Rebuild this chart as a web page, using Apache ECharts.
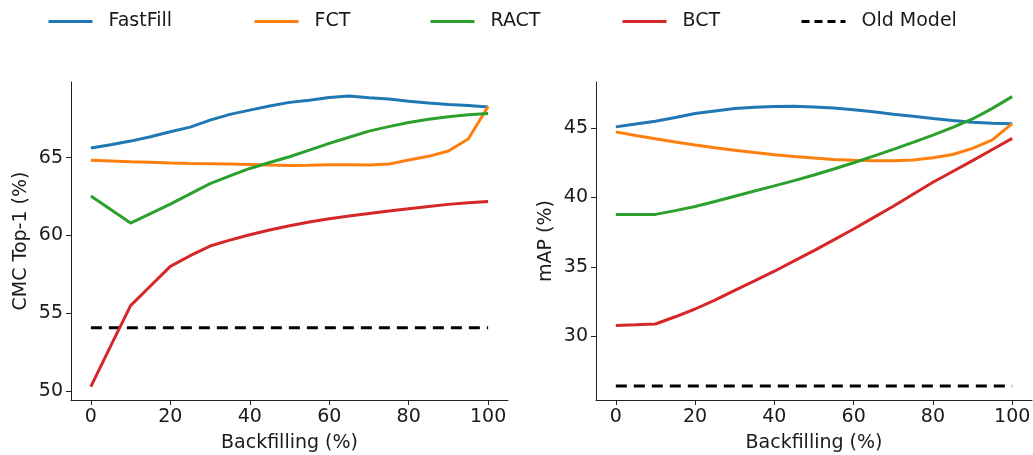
<!DOCTYPE html>
<html>
<head>
<meta charset="utf-8">
<script src="https://cdn.jsdelivr.net/npm/echarts@6/dist/echarts.min.js"></script>
<style>
  html, body { margin: 0; padding: 0; background: #fff; }
  #chart { width: 1033px; height: 455px; }
</style>
</head>
<body>
<div id="chart"></div>
<script>
// Backfilling percentage (x values shared by every curve)
const backfill = [0, 5, 10, 15, 20, 25, 30, 35, 40, 45, 50, 55, 60, 65, 70, 75, 80, 85, 90, 95, 100];

// CMC Top-1 (%)
const top1FastFill = [65.62, 65.83, 66.07, 66.35, 66.67, 66.97, 67.42, 67.79, 68.06, 68.33, 68.56, 68.70, 68.88, 68.97, 68.86, 68.77, 68.63, 68.52, 68.43, 68.36, 68.27];
const top1FCT      = [64.83, 64.79, 64.74, 64.71, 64.66, 64.63, 64.61, 64.59, 64.57, 64.53, 64.50, 64.52, 64.55, 64.55, 64.53, 64.59, 64.85, 65.09, 65.43, 66.20, 68.30];
const top1RACT     = [62.54, 61.67, 60.80, 61.40, 62.02, 62.68, 63.33, 63.83, 64.31, 64.69, 65.06, 65.49, 65.92, 66.32, 66.71, 67.00, 67.27, 67.47, 67.64, 67.76, 67.85];
const top1BCT      = [50.28, 52.90, 55.49, 56.75, 58.01, 58.70, 59.32, 59.70, 60.05, 60.35, 60.63, 60.87, 61.08, 61.25, 61.42, 61.57, 61.72, 61.86, 62.00, 62.10, 62.19];
const top1OldModel = 54.07;

// mAP (%)
const mapFastFill = [45.07, 45.27, 45.48, 45.75, 46.03, 46.22, 46.39, 46.48, 46.53, 46.55, 46.50, 46.42, 46.31, 46.16, 45.98, 45.83, 45.67, 45.53, 45.41, 45.33, 45.29];
const mapFCT      = [44.71, 44.45, 44.21, 43.98, 43.76, 43.56, 43.38, 43.22, 43.07, 42.94, 42.83, 42.73, 42.66, 42.63, 42.64, 42.68, 42.85, 43.08, 43.52, 44.14, 45.31];
const mapRACT     = [38.77, 38.77, 38.77, 39.04, 39.34, 39.70, 40.08, 40.45, 40.82, 41.20, 41.61, 42.04, 42.49, 42.96, 43.45, 43.95, 44.47, 45.03, 45.64, 46.40, 47.25];
const mapBCT      = [30.77, 30.82, 30.88, 31.40, 31.96, 32.60, 33.30, 33.98, 34.68, 35.42, 36.16, 36.94, 37.72, 38.54, 39.36, 40.22, 41.08, 41.86, 42.64, 43.44, 44.24];
const mapOldModel = 26.42;

// Tick labels
const xTicks = [0, 20, 40, 60, 80, 100];
const top1Ticks = [50, 55, 60, 65];
const mapTicks = [30, 35, 40, 45];

const methodNames = ['FastFill', 'FCT', 'RACT', 'BCT', 'Old Model'];
const colors = ['#1f77b4', '#ff7f0e', '#2ca02c', '#d62728', '#000000'];

const FONT = 'DejaVu Sans';
const FS = 19;
const INK = '#1a1a1a';

function pairs(ys) { return backfill.map((x, i) => [x, ys[i]]); }
function flat(v) { return [[backfill[0], v], [backfill[backfill.length - 1], v]]; }

function xAxis(gridIndex) {
  return {
    type: 'value', gridIndex, min: -5, max: 105,
    name: 'Backfilling (%)', nameLocation: 'middle', nameGap: 34,
    nameTextStyle: { fontFamily: FONT, fontSize: FS, color: INK },
    axisLine: { show: true, onZero: false, lineStyle: { color: '#222', width: 1 } },
    axisTick: { show: true, length: 5, lineStyle: { color: '#222' }, customValues: xTicks },
    axisLabel: { fontFamily: FONT, fontSize: FS, color: INK, margin: 8, customValues: xTicks },
    splitLine: { show: false }
  };
}
function yAxis(gridIndex, min, max, ticks, name) {
  return {
    type: 'value', gridIndex, min, max,
    name, nameLocation: 'middle', nameGap: 40, nameRotate: 90,
    nameTextStyle: { fontFamily: FONT, fontSize: FS, color: INK },
    axisLine: { show: true, onZero: false, lineStyle: { color: '#222', width: 1 } },
    axisTick: { show: true, length: 5, lineStyle: { color: '#222' }, customValues: ticks },
    axisLabel: { fontFamily: FONT, fontSize: FS, color: INK, margin: 8, customValues: ticks },
    splitLine: { show: false }
  };
}
function line(name, idx, data, color, dashed) {
  return {
    name, type: 'line', xAxisIndex: idx, yAxisIndex: idx, data,
    symbol: 'none', smooth: false, animation: false,
    lineStyle: { color, width: 3, type: dashed ? [11, 7] : 'solid', cap: 'butt' },
    itemStyle: { color }, z: dashed ? 1 : 2
  };
}

const legendLeft = [42, 248, 424, 616, 795];
const legends = methodNames.map((n, i) => ({
  data: [n], left: legendLeft[i], top: 7,
  itemWidth: 44, itemHeight: 14, itemGap: 0,
  itemStyle: { opacity: 0 },
  lineStyle: { width: 3, type: i === 4 ? [8, 5] : 'solid' },
  textStyle: { fontFamily: FONT, fontSize: FS, color: INK, padding: [0, 0, 0, 11] },
  selectedMode: false
}));

const option = {
  backgroundColor: '#fff',
  animation: false,
  legend: legends,
  grid: [
    { left: 71, right: 525, top: 82, bottom: 55, containLabel: false, outerBoundsMode: 'none' },
    { left: 596, right: 1, top: 82, bottom: 55, containLabel: false, outerBoundsMode: 'none' }
  ],
  xAxis: [xAxis(0), xAxis(1)],
  yAxis: [
    yAxis(0, 49.42, 69.87, top1Ticks, 'CMC Top-1 (%)'),
    yAxis(1, 25.41, 48.3, mapTicks, 'mAP (%)')
  ],
  series: [
    line('FastFill', 0, pairs(top1FastFill), colors[0]),
    line('FCT', 0, pairs(top1FCT), colors[1]),
    line('RACT', 0, pairs(top1RACT), colors[2]),
    line('BCT', 0, pairs(top1BCT), colors[3]),
    line('Old Model', 0, flat(top1OldModel), colors[4], true),
    line('FastFill', 1, pairs(mapFastFill), colors[0]),
    line('FCT', 1, pairs(mapFCT), colors[1]),
    line('RACT', 1, pairs(mapRACT), colors[2]),
    line('BCT', 1, pairs(mapBCT), colors[3]),
    line('Old Model', 1, flat(mapOldModel), colors[4], true)
  ]
};

const chart = echarts.init(document.getElementById('chart'), null, { renderer: 'canvas' });
chart.setOption(option);
</script>
</body>
</html>
